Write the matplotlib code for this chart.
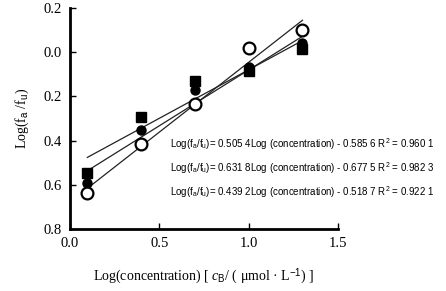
import matplotlib
matplotlib.use('Agg')
import matplotlib.pyplot as plt
import numpy as np

# x: log of concentration (1.25, 2.5, 5, 10, 20)
log_conc = [0.097, 0.398, 0.699, 1.000, 1.301]
squares = [-0.546, -0.295, -0.130, -0.087, 0.013]
dots = [-0.590, -0.354, -0.170, -0.065, 0.040]
rings = [-0.637, -0.415, -0.235, 0.021, 0.100]

# fitted lines (slope, intercept) as printed on the chart
fit_dots = (0.5054, -0.5856)
fit_rings = (0.6318, -0.6775)
fit_squares = (0.4392, -0.5187)

equations = [
    r'Log(f$_\mathrm{a}$/f$_\mathrm{u}$)= 0.505 4Log (concentration) - 0.585 6 R$^\mathrm{2}$ = 0.960 1',
    r'Log(f$_\mathrm{a}$/f$_\mathrm{u}$)= 0.631 8Log (concentration) - 0.677 5 R$^\mathrm{2}$ = 0.982 3',
    r'Log(f$_\mathrm{a}$/f$_\mathrm{u}$)= 0.439 2Log (concentration) - 0.518 7 R$^\mathrm{2}$ = 0.922 1',
]

xticks = [0.0, 0.5, 1.0, 1.5]
xtick_labels = ['0.0', '0.5', '1.0', '1.5']
yticks = [0.2, 0.0, -0.2, -0.4, -0.6, -0.8]
ytick_labels = ['0.2', '0.0', '0.2', '0.4', '0.6', '0.8']

plt.rcParams['font.family'] = ['Liberation Serif', 'DejaVu Serif']
plt.rcParams['mathtext.fontset'] = 'custom'
plt.rcParams['mathtext.rm'] = 'Liberation Sans'
plt.rcParams['mathtext.it'] = 'Liberation Serif:italic'

fig = plt.figure(figsize=(4.46, 2.91), dpi=100)
ax = fig.add_axes([70 / 446, 1 - 229 / 291, (338 - 70) / 446, (229 - 8) / 291])

xs = np.array([log_conc[0], log_conc[-1]])
for slope, icpt in (fit_squares, fit_dots, fit_rings):
    ax.plot(xs, slope * xs + icpt, color='#222222', lw=0.9, zorder=2)

ax.plot(log_conc, squares, 's', color='black', ms=6.5, zorder=3)
ax.plot(log_conc, dots, 'o', color='black', ms=6.5, zorder=4)
ax.plot(log_conc, rings, 'o', mfc='white', mec='black', mew=1.6, ms=8.5, zorder=5)

ax.set_xlim(0, 1.5)
ax.set_ylim(-0.8, 0.2)
ax.set_xticks(xticks)
ax.set_xticklabels(xtick_labels, fontsize=10.5)
ax.set_yticks(yticks)
ax.set_yticklabels(ytick_labels, fontsize=10.5)
ax.tick_params(direction='in', length=4, width=1, pad=6)
for side in ('top', 'right'):
    ax.spines[side].set_visible(False)
for side in ('left', 'bottom'):
    ax.spines[side].set_linewidth(2)

ax.set_ylabel(r'Log(f$_\mathrm{a}$ /f$_\mathrm{u}$)', fontsize=10, labelpad=9)
ax.set_xlabel(r'Log(concentration) [ $c_\mathrm{B}$/ ( μmol · L$^{-1}$) ]', fontsize=10, labelpad=12)

for i, eq in enumerate(equations):
    fig.text(170 / 446, 1 - (144 + 24 * i) / 291, eq, fontsize=7,
             family='Liberation Sans', va='center', ha='left')

plt.savefig('out.png', dpi=100)
